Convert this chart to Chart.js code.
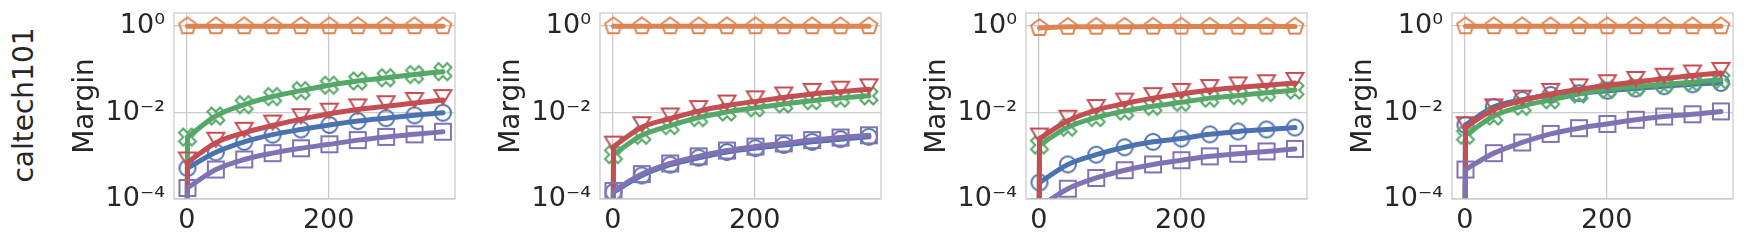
<!DOCTYPE html>
<html>
<head>
<meta charset="utf-8">
<script src="https://cdn.jsdelivr.net/npm/chart.js@4.4.0/dist/chart.umd.min.js"></script>
<style>
    html, body { margin: 0; padding: 0; background: #fff; }
    body { width: 1750px; height: 240px; position: relative; overflow: hidden; font-family: 'DejaVu Sans', sans-serif; }
    canvas.panel { position: absolute; top: 0; }
    #rowLabel {
        position: absolute; left: 23px; top: 105px;
        transform: translate(-50%, -50%) rotate(-90deg);
        font-size: 28px; color: #262626; white-space: nowrap;
    }
</style>
</head>
<body>
<div id="rowLabel">caltech101</div>
<canvas id="panel1" class="panel" width="404" height="240" style="left:64px"></canvas>
<canvas id="panel2" class="panel" width="404" height="240" style="left:490px"></canvas>
<canvas id="panel3" class="panel" width="404" height="240" style="left:916px"></canvas>
<canvas id="panel4" class="panel" width="404" height="240" style="left:1342px"></canvas>
<script>
// steps (first entry: start value, below the axis for most series)
const steps = [0, 1, 41, 81, 121, 161, 201, 241, 281, 321, 361];
const xTicks = [0, 200];
const yTickValues = [1e-4, 1e-2, 1];
const yTickLabels = ['10\u207B\u2074', '10\u207B\u00B2', '10\u2070'];
const rowLabel = 'caltech101';
const yTitle = 'Margin';

// panel 1
const circle1   = [1e-7, 5.2e-4, 1.2e-3, 2.1e-3, 3.08e-3, 4.05e-3, 5.15e-3, 6.34e-3, 7.4e-3, 8.6e-3, 9.9e-3];
const pentagon1 = [0.99, 0.99, 0.99, 0.99, 0.99, 0.99, 0.99, 0.99, 0.99, 0.99, 0.99];
const cross1    = [1e-7, 2.7e-3, 8.3e-3, 1.52e-2, 2.34e-2, 3.2e-2, 4.28e-2, 5.36e-2, 6.37e-2, 7.56e-2, 8.8e-2];
const triangle1 = [1e-7, 7.0e-4, 2.0e-3, 3.4e-3, 5.0e-3, 7.03e-3, 9.4e-3, 1.18e-2, 1.4e-2, 1.66e-2, 1.94e-2];
const square1   = [1e-7, 1.8e-4, 4.8e-4, 8.2e-4, 1.15e-3, 1.49e-3, 1.84e-3, 2.3e-3, 2.73e-3, 3.13e-3, 3.59e-3];

// panel 2
const circle2   = [1e-7, 1.45e-4, 3.5e-4, 6.2e-4, 9.0e-4, 1.22e-3, 1.5e-3, 1.78e-3, 2.1e-3, 2.42e-3, 2.75e-3];
const pentagon2 = [0.99, 0.99, 0.99, 0.99, 0.99, 0.99, 0.99, 0.99, 0.99, 0.99, 0.99];
const cross2    = [1e-7, 1.06e-3, 2.97e-3, 4.98e-3, 7.66e-3, 1.03e-2, 1.28e-2, 1.58e-2, 1.88e-2, 2.15e-2, 2.43e-2];
const triangle2 = [1e-7, 1.63e-3, 4.57e-3, 7.27e-3, 1.08e-2, 1.45e-2, 1.81e-2, 2.23e-2, 2.69e-2, 3.04e-2, 3.43e-2];
const square2   = [1e-7, 1.54e-4, 3.77e-4, 6.64e-4, 9.7e-4, 1.32e-3, 1.63e-3, 1.93e-3, 2.3e-3, 2.64e-3, 2.97e-3];

// panel 3
const circle3   = [1e-7, 2.4e-4, 6.3e-4, 1.06e-3, 1.57e-3, 2.1e-3, 2.5e-3, 3.13e-3, 3.65e-3, 4.05e-3, 4.49e-3];
const pentagon3 = [0.9, 0.9, 0.96, 0.965, 0.965, 0.97, 0.97, 0.97, 0.97, 0.97, 0.97];
const cross3    = [1e-7, 1.77e-3, 4.57e-3, 7.66e-3, 1.08e-2, 1.4e-2, 1.72e-2, 2.15e-2, 2.47e-2, 2.88e-2, 3.31e-2];
const triangle3 = [1e-7, 2.5e-3, 6.45e-3, 1.14e-2, 1.61e-2, 2.15e-2, 2.69e-2, 3.31e-2, 3.8e-2, 4.28e-2, 4.83e-2];
const square3   = [1e-7, 6.5e-5, 1.73e-4, 3.06e-4, 4.63e-4, 6.3e-4, 7.88e-4, 9.7e-4, 1.11e-3, 1.26e-3, 1.44e-3];

// panel 4
const circle4   = [1e-7, 5.15e-3, 1.35e-2, 1.97e-2, 2.55e-2, 2.8e-2, 3.2e-2, 3.6e-2, 4.06e-2, 4.5e-2, 4.83e-2];
const pentagon4 = [0.99, 0.99, 0.99, 0.99, 0.99, 0.99, 0.99, 0.99, 0.99, 0.99, 0.99];
const cross4    = [1e-7, 2.97e-3, 8.3e-3, 1.4e-2, 1.97e-2, 2.69e-2, 3.43e-2, 3.93e-2, 4.51e-2, 5.0e-2, 5.74e-2];
const triangle4 = [1e-7, 4.57e-3, 1.18e-2, 1.88e-2, 2.69e-2, 3.43e-2, 4.28e-2, 5.09e-2, 6.04e-2, 7.18e-2, 8.24e-2];
const square4   = [1e-7, 4.8e-4, 1.15e-3, 2.03e-3, 3.2e-3, 4.34e-3, 5.43e-3, 6.8e-3, 8.07e-3, 9.1e-3, 1.06e-2];

const colors = {
    circle: '#4C72B0',
    pentagon: '#DD8452',
    cross: '#55A868',
    triangle: '#C44E52',
    square: '#8172B3'
};
const textColor = '#262626';
const gridColor = '#cccccc';
const fontFamily = "'DejaVu Sans', sans-serif";
const fontSize = 27;

document.getElementById('rowLabel').textContent = rowLabel;

// hollow marker glyphs, drawn once per shape
function markerCanvas(shape, color) {
    const size = 26;
    const c = document.createElement('canvas');
    c.width = size;
    c.height = size;
    const g = c.getContext('2d');
    const m = size / 2;
    g.strokeStyle = color;
    g.lineWidth = 2;
    g.beginPath();
    if (shape === 'circle') {
        g.arc(m, m, 8, 0, Math.PI * 2);
    } else if (shape === 'square') {
        g.rect(m - 8, m - 8, 16, 16);
    } else if (shape === 'pentagon') {
        const r = 8.8;
        for (let k = 0; k < 5; k++) {
            const a = -Math.PI / 2 + k * 2 * Math.PI / 5;
            const px = m + r * Math.cos(a), py = m + r * Math.sin(a);
            k === 0 ? g.moveTo(px, py) : g.lineTo(px, py);
        }
    } else if (shape === 'triangle') {
        // pointing down, sitting a little above the data point
        const top = m - 10;
        g.moveTo(m - 8.5, top);
        g.lineTo(m + 8.5, top);
        g.lineTo(m, top + 14);
    } else if (shape === 'cross') {
        const pts = [[-1, -3], [1, -3], [1, -1], [3, -1], [3, 1], [1, 1], [1, 3], [-1, 3], [-1, 1], [-3, 1], [-3, -1], [-1, -1]];
        const s = 18 / 6;
        const cs = Math.cos(Math.PI / 4), sn = Math.sin(Math.PI / 4);
        pts.forEach((p, k) => {
            const px = m + s * (p[0] * cs - p[1] * sn);
            const py = m + s * (p[0] * sn + p[1] * cs);
            k === 0 ? g.moveTo(px, py) : g.lineTo(px, py);
        });
    }
    g.closePath();
    g.stroke();
    return c;
}

const markers = {};
Object.keys(colors).forEach(k => { markers[k] = markerCanvas(k, colors[k]); });

// frame around the plot area (all four spines)
const framePlugin = {
    id: 'frame',
    afterDatasetsDraw(chart) {
        const { ctx, chartArea: a } = chart;
        ctx.save();
        ctx.strokeStyle = gridColor;
        ctx.lineWidth = 1.3;
        ctx.strokeRect(a.left, a.top, a.right - a.left, a.bottom - a.top);
        ctx.restore();
    }
};

// smooth curve through the marked steps
function makeDataset(shape, values, order) {
    return {
        label: shape,
        data: steps.slice(1).map((x, i) => ({ x: x, y: values[i + 1] })),
        borderColor: colors[shape],
        borderWidth: 5,
        borderCapStyle: 'round',
        cubicInterpolationMode: 'monotone',
        pointStyle: markers[shape],
        pointRadius: 8,
        pointHoverRadius: 0,
        clip: 0,
        order: order
    };
}

// straight piece from the start value to the first marked step
function makeStart(shape, values, order) {
    return {
        label: shape + ' start',
        data: steps.slice(0, 2).map((x, i) => ({ x: x, y: values[i] })),
        borderColor: colors[shape],
        borderWidth: 5,
        pointRadius: 0,
        pointHoverRadius: 0,
        clip: 0,
        order: order + 0.5
    };
}

function makePanel(id, series) {
    const shapes = ['circle', 'pentagon', 'cross', 'triangle', 'square'];
    const datasets = [];
    shapes.forEach((shape, k) => {
        const order = 5 - k;
        datasets.push(makeDataset(shape, series[shape], order));
        datasets.push(makeStart(shape, series[shape], order));
    });
    new Chart(document.getElementById(id), {
        type: 'line',
        data: { datasets: datasets },
        options: {
            responsive: false,
            animation: false,
            devicePixelRatio: 1,
            layout: { padding: { top: 7, right: 2, left: 0, bottom: 0 } },
            plugins: {
                legend: { display: false },
                tooltip: { enabled: false }
            },
            scales: {
                x: {
                    type: 'linear',
                    min: -18,
                    max: 378,
                    afterBuildTicks: s => { s.ticks = xTicks.map(v => ({ value: v })); },
                    afterFit: s => { s.height = 41; s.paddingLeft = 0; s.paddingRight = 0; },
                    grid: { color: gridColor, lineWidth: 1.3, drawTicks: false },
                    border: { display: false },
                    ticks: {
                        padding: 6,
                        color: textColor,
                        font: { family: fontFamily, size: fontSize },
                        maxRotation: 0,
                        autoSkip: false
                    }
                },
                y: {
                    type: 'logarithmic',
                    min: 1e-4,
                    max: 2,
                    afterBuildTicks: s => { s.ticks = yTickValues.map(v => ({ value: v })); },
                    afterFit: s => { s.width = 110; s.paddingTop = 0; s.paddingBottom = 0; },
                    grid: { color: gridColor, lineWidth: 1.3, drawTicks: false },
                    border: { display: false },
                    ticks: {
                        padding: 9,
                        color: textColor,
                        font: { family: fontFamily, size: fontSize },
                        autoSkip: false,
                        callback: v => {
                            const i = yTickValues.findIndex(t => Math.abs(Math.log10(t) - Math.log10(v)) < 1e-6);
                            return i >= 0 ? yTickLabels[i] : '';
                        }
                    },
                    title: {
                        display: true,
                        text: yTitle,
                        color: textColor,
                        font: { family: fontFamily, size: fontSize + 1 },
                        padding: { top: 5, bottom: 0 }
                    }
                }
            }
        },
        plugins: [framePlugin]
    });
}

makePanel('panel1', { circle: circle1, pentagon: pentagon1, cross: cross1, triangle: triangle1, square: square1 });
makePanel('panel2', { circle: circle2, pentagon: pentagon2, cross: cross2, triangle: triangle2, square: square2 });
makePanel('panel3', { circle: circle3, pentagon: pentagon3, cross: cross3, triangle: triangle3, square: square3 });
makePanel('panel4', { circle: circle4, pentagon: pentagon4, cross: cross4, triangle: triangle4, square: square4 });
</script>
</body>
</html>
